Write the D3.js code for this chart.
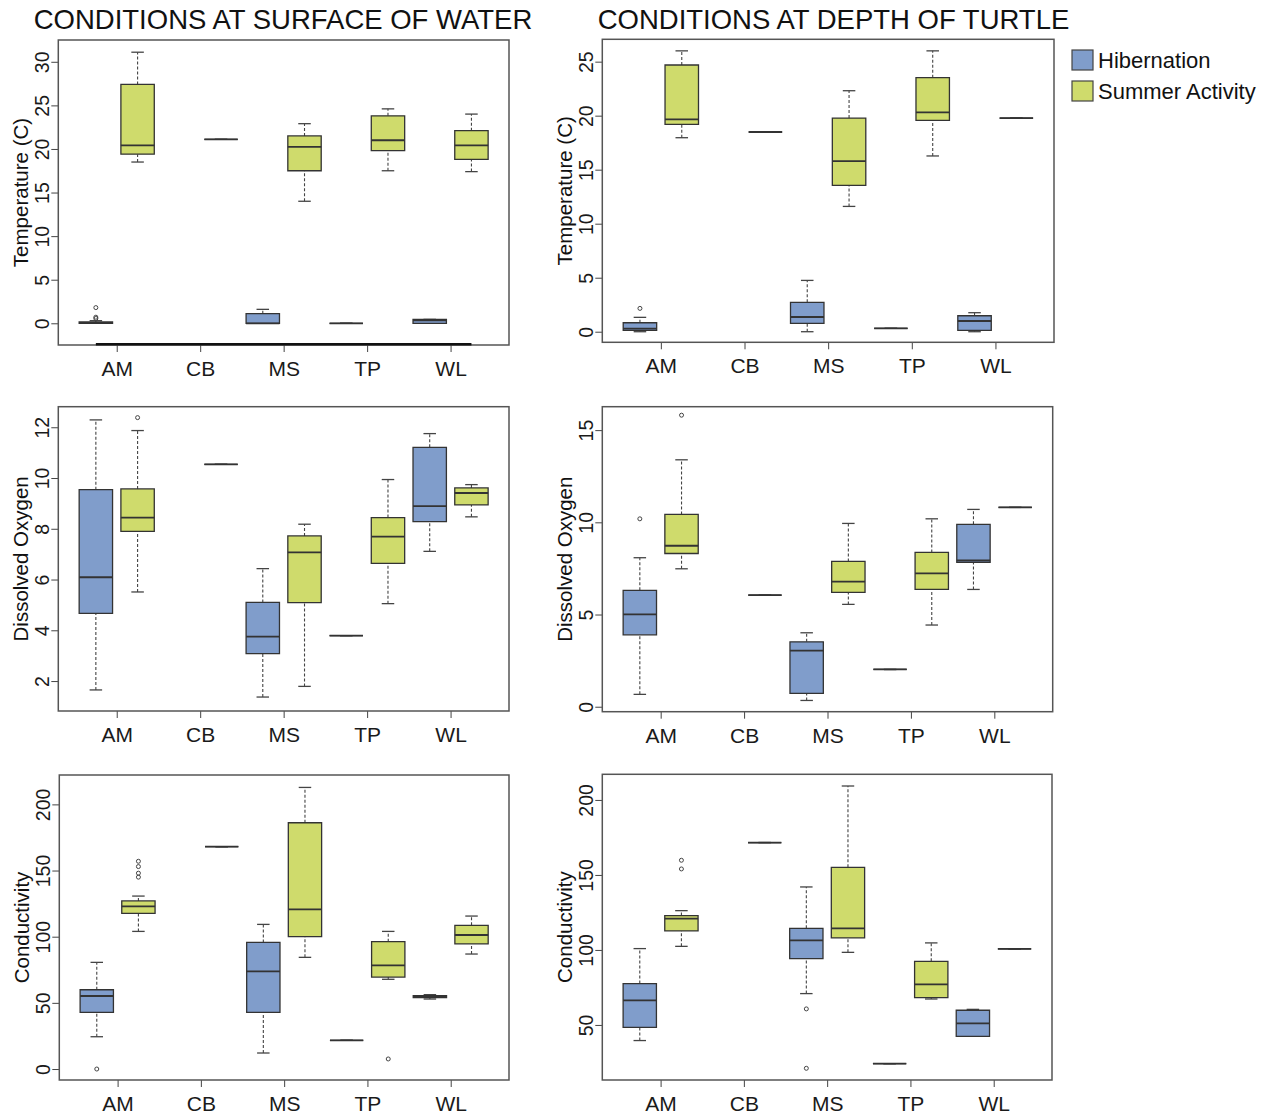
<!DOCTYPE html>
<html lang="en">
<head>
  <meta charset="utf-8">
  <title>Turtle habitat conditions</title>
<style>
body { margin: 0; background: #fff; }
svg { font-family: "Liberation Sans", Arial, sans-serif; }
.tick text { fill: #1a1a1a; }
</style>
<script src="https://d3js.org/d3.v7.min.js"></script>
</head>
<body>
<div id="chart"></div>
<script>

// categories
var sites = ["AM", "CB", "MS", "TP", "WL"];
var groups = ["Hibernation", "Summer Activity"];
var colTitles = ["CONDITIONS AT SURFACE OF WATER", "CONDITIONS AT DEPTH OF TURTLE"];
var rowTitles = ["Temperature (C)", "Dissolved Oxygen", "Conductivity"];

// box stats per site: [lower whisker, q1, median, q3, upper whisker], null = no box
var tempSurfHib = [[0, 0, 0.05, 0.15, 0.3], null, [0, 0, 0, 1.1, 1.6], [0, 0, 0, 0, 0], [0, 0, 0.35, 0.45, 0.45]];
var tempSurfSum = [[18.5, 19.4, 20.4, 27.4, 31.1], [21.1, 21.1, 21.1, 21.1, 21.1], [14.0, 17.5, 20.25, 21.5, 22.9], [17.5, 19.8, 21.0, 23.8, 24.6], [17.4, 18.8, 20.4, 22.1, 24.0]];
var tempSurfOut = [["AM", 0, 0.55], ["AM", 0, 0.7], ["AM", 0, 1.8]];

var tempDepthHib = [[0, 0.12, 0.28, 0.83, 1.33], null, [0, 0.77, 1.36, 2.72, 4.75], [0.31, 0.31, 0.31, 0.31, 0.31], [0, 0.12, 0.99, 1.48, 1.76]];
var tempDepthSum = [[17.96, 19.2, 19.66, 24.69, 26.0], [18.49, 18.49, 18.49, 18.49, 18.49], [11.6, 13.55, 15.8, 19.78, 22.31], [16.27, 19.57, 20.31, 23.52, 26.0], [19.78, 19.78, 19.78, 19.78, 19.78]];
var tempDepthOut = [["AM", 0, 2.16]];

var doSurfHib = [[1.65, 4.67, 6.09, 9.54, 12.29], null, [1.37, 3.08, 3.75, 5.1, 6.43], [3.79, 3.79, 3.79, 3.79, 3.79], [7.11, 8.28, 8.89, 11.21, 11.75]];
var doSurfSum = [[5.51, 7.9, 8.44, 9.57, 11.87], [10.54, 10.54, 10.54, 10.54, 10.54], [1.79, 5.09, 7.07, 7.72, 8.18], [5.05, 6.64, 7.69, 8.44, 9.94], [8.47, 8.94, 9.41, 9.61, 9.74]];
var doSurfOut = [["AM", 1, 12.38]];

var doDepthHib = [[0.67, 3.9, 5.01, 6.31, 8.08], null, [0.34, 0.72, 3.04, 3.52, 4.01], [2.02, 2.02, 2.02, 2.02, 2.02], [6.36, 7.83, 7.93, 9.89, 10.7]];
var doDepthSum = [[7.48, 8.31, 8.73, 10.43, 13.39], [6.05, 6.05, 6.05, 6.05, 6.05], [5.55, 6.2, 6.78, 7.88, 9.94], [4.43, 6.36, 7.23, 8.37, 10.19], [10.81, 10.81, 10.81, 10.81, 10.81]];
var doDepthOut = [["AM", 0, 10.19], ["AM", 1, 15.81]];

var condSurfHib = [[24.4, 42.8, 55.2, 59.9, 80.6], null, [12.1, 42.8, 73.8, 95.7, 109.3], [21.7, 21.7, 21.7, 21.7, 21.7], [52.9, 53.9, 54.7, 55.4, 56.2]];
var condSurfSum = [[104, 117.6, 122.9, 127, 130.7], [168, 168, 168, 168, 168], [84.4, 100, 120.7, 186.1, 212.8], [67.8, 69.5, 78.3, 96.2, 104], [86.9, 94.5, 101.3, 108.6, 115.6]];
var condSurfOut = [["AM", 0, 0], ["AM", 1, 145], ["AM", 1, 148], ["AM", 1, 153], ["AM", 1, 157], ["TP", 1, 7.6]];

var condDepthHib = [[39.6, 48.4, 66.4, 77.6, 100.9], null, [70.9, 94.2, 106.4, 114.4, 142], [24.2, 24.2, 24.2, 24.2, 24.2], [42.4, 42.4, 51.1, 59.8, 60.4]];
var condDepthSum = [[102.4, 112.7, 120.9, 122.9, 126.2], [171.6, 171.6, 171.6, 171.6, 171.6], [98.4, 108, 114.4, 155.1, 209.3], [67.3, 68.2, 77.1, 92.4, 104.7], [100.7, 100.7, 100.7, 100.7, 100.7]];
var condDepthOut = [["AM", 1, 154], ["AM", 1, 159.8], ["MS", 0, 60.7], ["MS", 0, 21.1]];

// y tick labels per panel
var tempSurfTicks = [0, 5, 10, 15, 20, 25, 30];
var tempDepthTicks = [0, 5, 10, 15, 20, 25];
var doSurfTicks = [2, 4, 6, 8, 10, 12];
var doDepthTicks = [0, 5, 10, 15];
var condSurfTicks = [0, 50, 100, 150, 200];
var condDepthTicks = [50, 100, 150, 200];

// ---- layout ----
var W = 1273, H = 1114;
var colors = ["#809DCB", "#CFDB6C"];

var panels = [
  {row: 0, col: 0, x0: 58.3, x1: 509, y0: 40, y1: 345, lim: [-2.49, 32.5], hib: tempSurfHib, sum: tempSurfSum, out: tempSurfOut, ticks: tempSurfTicks, edge: -2.41},
  {row: 0, col: 1, x0: 602.3, x1: 1054, y0: 39.3, y1: 342.3, lim: [-0.98, 27.07], hib: tempDepthHib, sum: tempDepthSum, out: tempDepthOut, ticks: tempDepthTicks},
  {row: 1, col: 0, x0: 58.3, x1: 509, y0: 406.7, y1: 711, lim: [0.82, 12.81], hib: doSurfHib, sum: doSurfSum, out: doSurfOut, ticks: doSurfTicks},
  {row: 1, col: 1, x0: 602.3, x1: 1052.7, y0: 406.7, y1: 711.7, lim: [-0.27, 16.27], hib: doDepthHib, sum: doDepthSum, out: doDepthOut, ticks: doDepthTicks},
  {row: 2, col: 0, x0: 59.3, x1: 509, y0: 775, y1: 1080, lim: [-8.3, 222.2], hib: condSurfHib, sum: condSurfSum, out: condSurfOut, ticks: condSurfTicks},
  {row: 2, col: 1, x0: 602.3, x1: 1052, y0: 774.3, y1: 1080, lim: [13.3, 217.1], hib: condDepthHib, sum: condDepthSum, out: condDepthOut, ticks: condDepthTicks}
];

var svg = d3.select("#chart").append("svg")
    .attr("width", W)
    .attr("height", H);

svg.append("rect").attr("width", W).attr("height", H).attr("fill", "#fff");

// column titles
svg.selectAll(".coltitle")
  .data(colTitles)
  .enter().append("text")
    .attr("class", "coltitle")
    .attr("x", function(d, i) { return i == 0 ? 283 : 833.5; })
    .attr("y", 28.5)
    .attr("text-anchor", "middle")
    .attr("font-size", 27.5)
    .attr("fill", "#111")
    .text(function(d) { return d; });

var boxHalf = 0.2, offset = 0.25, stapleHalf = 0.075;

panels.forEach(function(p) {
  var x = d3.scaleLinear().domain([0.3, 5.7]).range([p.x0, p.x1]);
  var y = d3.scaleLinear().domain(p.lim).range([p.y1, p.y0]);
  var g = svg.append("g");

  // y axis, R style rotated labels
  var ya = g.append("g")
      .attr("transform", "translate(" + p.x0 + ",0)")
      .call(d3.axisLeft(y).tickValues(p.ticks).tickSize(7).tickFormat(d3.format("d")));
  ya.select(".domain").remove();
  ya.selectAll(".tick line").attr("stroke", "#444");
  ya.selectAll(".tick text")
      .attr("font-size", 19.5)
      .attr("x", null).attr("dy", null)
      .attr("y", -9)
      .attr("text-anchor", "middle")
      .attr("transform", "rotate(-90)");

  // x axis
  var xa = g.append("g")
      .attr("transform", "translate(0," + p.y1 + ")")
      .call(d3.axisBottom(x).tickValues([1, 2, 3, 4, 5]).tickSize(7).tickPadding(9)
        .tickFormat(function(d) { return sites[d - 1]; }));
  xa.select(".domain").remove();
  xa.selectAll(".tick line").attr("stroke", "#444");
  xa.selectAll(".tick text").attr("font-size", 21);

  // y title
  g.append("text")
      .attr("transform", "translate(" + (p.x0 - 30) + "," + ((p.y0 + p.y1) / 2) + ") rotate(-90)")
      .attr("text-anchor", "middle")
      .attr("font-size", 20.5)
      .attr("fill", "#111")
      .text(rowTitles[p.row]);

  // boxes
  [p.hib, p.sum].forEach(function(series, gi) {
    series.forEach(function(s, si) {
      if (!s) return;
      var c = si + 1 + (gi == 0 ? -offset : offset);
      var bx = g.append("g");
      // whiskers
      [[s[0], s[1]], [s[3], s[4]]].forEach(function(w) {
        if (w[0] == w[1]) return;
        bx.append("line")
            .attr("x1", x(c)).attr("x2", x(c))
            .attr("y1", y(w[0])).attr("y2", y(w[1]))
            .attr("stroke", "#444").attr("stroke-width", 1.1)
            .attr("stroke-dasharray", "3,2");
      });
      [s[0], s[4]].forEach(function(v) {
        bx.append("line")
            .attr("x1", x(c - stapleHalf)).attr("x2", x(c + stapleHalf))
            .attr("y1", y(v)).attr("y2", y(v))
            .attr("stroke", "#444").attr("stroke-width", 1.3);
      });
      var path = d3.path();
      path.moveTo(x(c - boxHalf), y(s[1]));
      path.lineTo(x(c + boxHalf), y(s[1]));
      path.lineTo(x(c + boxHalf), y(s[3]));
      path.lineTo(x(c - boxHalf), y(s[3]));
      path.closePath();
      bx.append("path")
          .attr("d", path.toString())
          .attr("fill", colors[gi])
          .attr("stroke", "#333")
          .attr("stroke-width", 1.3);
      bx.append("line")
          .attr("x1", x(c - boxHalf)).attr("x2", x(c + boxHalf))
          .attr("y1", y(s[2])).attr("y2", y(s[2]))
          .attr("stroke", "#333").attr("stroke-width", 1.8);
    });
  });

  // outliers
  g.selectAll(".out")
    .data(p.out)
    .enter().append("circle")
      .attr("cx", function(d) { return x(sites.indexOf(d[0]) + 1 + (d[1] == 0 ? -offset : offset)); })
      .attr("cy", function(d) { return y(d[2]); })
      .attr("r", 2)
      .attr("fill", "none")
      .attr("stroke", "#444")
      .attr("stroke-width", 1);

  // frame
  g.append("rect")
      .attr("x", p.x0).attr("y", p.y0)
      .attr("width", p.x1 - p.x0).attr("height", p.y1 - p.y0)
      .attr("fill", "none")
      .attr("stroke", "#555")
      .attr("stroke-width", 1.5);

  // thick dark segment along the bottom of the first panel
  if (p.edge !== undefined) {
    g.append("line")
        .attr("x1", x(1 - offset)).attr("x2", x(5 + offset))
        .attr("y1", y(p.edge)).attr("y2", y(p.edge))
        .attr("stroke", "#111").attr("stroke-width", 2.5);
  }
});

// legend
var leg = svg.selectAll(".legend")
  .data(groups)
  .enter().append("g")
    .attr("class", "legend")
    .attr("transform", function(d, i) { return "translate(1072," + (50 + i * 31) + ")"; });

leg.append("rect")
    .attr("width", 21).attr("height", 20)
    .attr("fill", function(d, i) { return colors[i]; })
    .attr("stroke", "#444").attr("stroke-width", 1.2);

leg.append("text")
    .attr("x", 26).attr("y", 18)
    .attr("font-size", 22)
    .attr("fill", "#111")
    .text(function(d) { return d; });

</script>
</body>
</html>
